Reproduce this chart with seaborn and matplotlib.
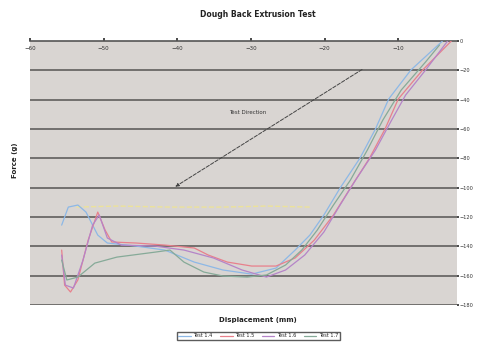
import matplotlib
matplotlib.use("Agg")
import matplotlib.pyplot as plt
import seaborn as sns
import pandas as pd

title = "Dough Back Extrusion Test"
x_label = "Displacement (mm)"
y_label = "Force (g)"
series_names = ["Test 1.4", "Test 1.5", "Test 1.6", "Test 1.7"]
x_ticks = [-60, -50, -40, -30, -20, -10]
y_ticks = [0, -20, -40, -60, -80, -100, -120, -140, -160, -180]

blue_x = [-55.7, -54.8, -53.5, -52.4, -50.8, -49.5, -45.6, -41.7, -37.7, -33.8, -29.9,
          -26.6, -24.0, -22.0, -20.1, -17.9, -15.2, -13.1, -11.3, -8.3, -4.0]
blue_y = [-125.5, -113.2, -111.8, -116.6, -132.3, -137.7, -139.8, -142.5, -150.7, -156.1,
          -158.9, -154.8, -142.5, -132.3, -118.6, -100.2, -79.8, -60.0, -39.5, -19.8, 0]

pink_x = [-55.7, -55.3, -54.5, -53.5, -52.1, -50.8, -49.8, -48.9, -45.6, -41.7, -37.7, -35.8,
          -33.2, -29.9, -26.6, -24.0, -21.4, -18.8, -16.5, -13.9, -11.8, -10.0, -6.7, -2.8]
pink_y = [-142.5, -166.4, -171.1, -162.9, -135.7, -116.6, -128.9, -137.0, -137.7, -139.1,
          -141.1, -145.9, -150.7, -153.4, -153.4, -147.9, -135.7, -118.6, -100.2, -79.8,
          -60.0, -39.5, -19.8, 0]

purple_x = [-55.7, -55.2, -54.1, -52.8, -51.5, -50.6, -49.5, -47.6, -43.0, -39.1, -35.1, -31.2,
            -27.9, -25.3, -22.7, -20.1, -17.9, -15.8, -13.1, -10.9, -9.0, -6.3, -3.3]
purple_y = [-145.9, -166.4, -168.4, -149.3, -125.5, -118.6, -134.3, -139.1, -139.8, -142.5,
            -147.9, -156.1, -160.9, -156.1, -145.9, -130.2, -111.8, -94.8, -74.3, -53.9,
            -36.8, -19.8, 0]

green_x = [-55.7, -55.0, -53.5, -51.2, -48.2, -43.0, -41.0, -39.1, -36.4, -33.8, -30.5,
           -27.9, -25.3, -23.1, -21.0, -18.8, -16.5, -14.2, -12.1, -9.6, -6.3, -4.4]
green_y = [-149.3, -162.9, -160.9, -151.4, -147.3, -143.9, -142.5, -150.7, -157.5, -160.2,
           -160.9, -159.5, -152.7, -142.5, -128.9, -111.8, -94.8, -74.3, -53.9, -33.4,
           -14.3, -2.7]

yellow_x = [-53.7, -48.2, -41.0, -33.8, -27.9, -22.0]
yellow_y = [-113.2, -112.5, -113.2, -113.2, -112.5, -113.2]

colors = ["#8db8e6", "#e8808c", "#b584c8", "#86aa98"]

frames = []
for name, xs, ys in zip(series_names, [blue_x, pink_x, purple_x, green_x],
                        [blue_y, pink_y, purple_y, green_y]):
    frames.append(pd.DataFrame({"x": xs, "y": ys, "series": name}))
df = pd.concat(frames, ignore_index=True)

sns.set_theme(style="white")
plt.rcParams["font.family"] = ["DejaVu Sans"]

fig = plt.figure(figsize=(4.8, 3.42), dpi=100)
fig.patch.set_facecolor("white")
ax = fig.add_axes([0.0625, 0.108, 0.89, 0.772])
ax.set_facecolor("#d9d5d2")

for yt in y_ticks[1:]:
    ax.axhline(yt, color="#6a6866", lw=1.3, zorder=1)

sns.lineplot(data=pd.DataFrame({"x": yellow_x, "y": yellow_y}), x="x", y="y",
             color="#ece29a", lw=1.0, linestyle="--", sort=False, estimator=None,
             legend=False, ax=ax, zorder=2)
sns.lineplot(data=df, x="x", y="y", hue="series", palette=colors, sort=False,
             estimator=None, lw=0.9, ax=ax, zorder=3)

ax.set_xlim(-60, -2)
ax.set_ylim(-180, 0)
ax.set_xticks(x_ticks)
ax.set_yticks(y_ticks)
ax.xaxis.tick_top()
ax.tick_params(axis="x", top=True, bottom=False, labeltop=True, labelbottom=False,
               direction="out", length=2, pad=-9, labelsize=4, colors="#333333")
ax.yaxis.tick_right()
ax.tick_params(axis="y", right=True, left=False, length=1.5, pad=0.5, labelsize=3.6,
               colors="#333333")
for s in ["left", "right", "bottom"]:
    ax.spines[s].set_visible(False)
ax.spines["top"].set_color("#555555")
ax.spines["top"].set_linewidth(1.2)
ax.set_xlabel("")
ax.set_ylabel("")

ax.annotate("", xy=(-40.6, -100.3), xytext=(-14.6, -18.4),
            arrowprops=dict(arrowstyle="-|>", color="#444444", lw=0.7,
                            linestyle="--", mutation_scale=5))
ax.text(-30.4, -49, "Test Direction", fontsize=4, color="#333333", ha="center", va="center")

fig.text(0.537, 0.958, title, ha="center", va="center", fontsize=5.5, fontweight="bold",
         color="#222222")
fig.text(0.537, 0.064, x_label, ha="center", va="center", fontsize=5, fontweight="bold",
         color="#222222")
fig.text(0.031, 0.53, y_label, ha="center", va="center", rotation=90, fontsize=5,
         fontweight="bold", color="#222222")

handles, labels = ax.get_legend_handles_labels()
ax.legend_.remove()
fig.legend(handles, labels, loc="center", bbox_to_anchor=(0.538, 0.018), ncol=4,
           fontsize=3.6, frameon=True, edgecolor="#333333", fancybox=False,
           handlelength=2.5, columnspacing=1.5, borderpad=0.3, handletextpad=0.5)

fig.savefig("out.png", dpi=100, facecolor="white")
